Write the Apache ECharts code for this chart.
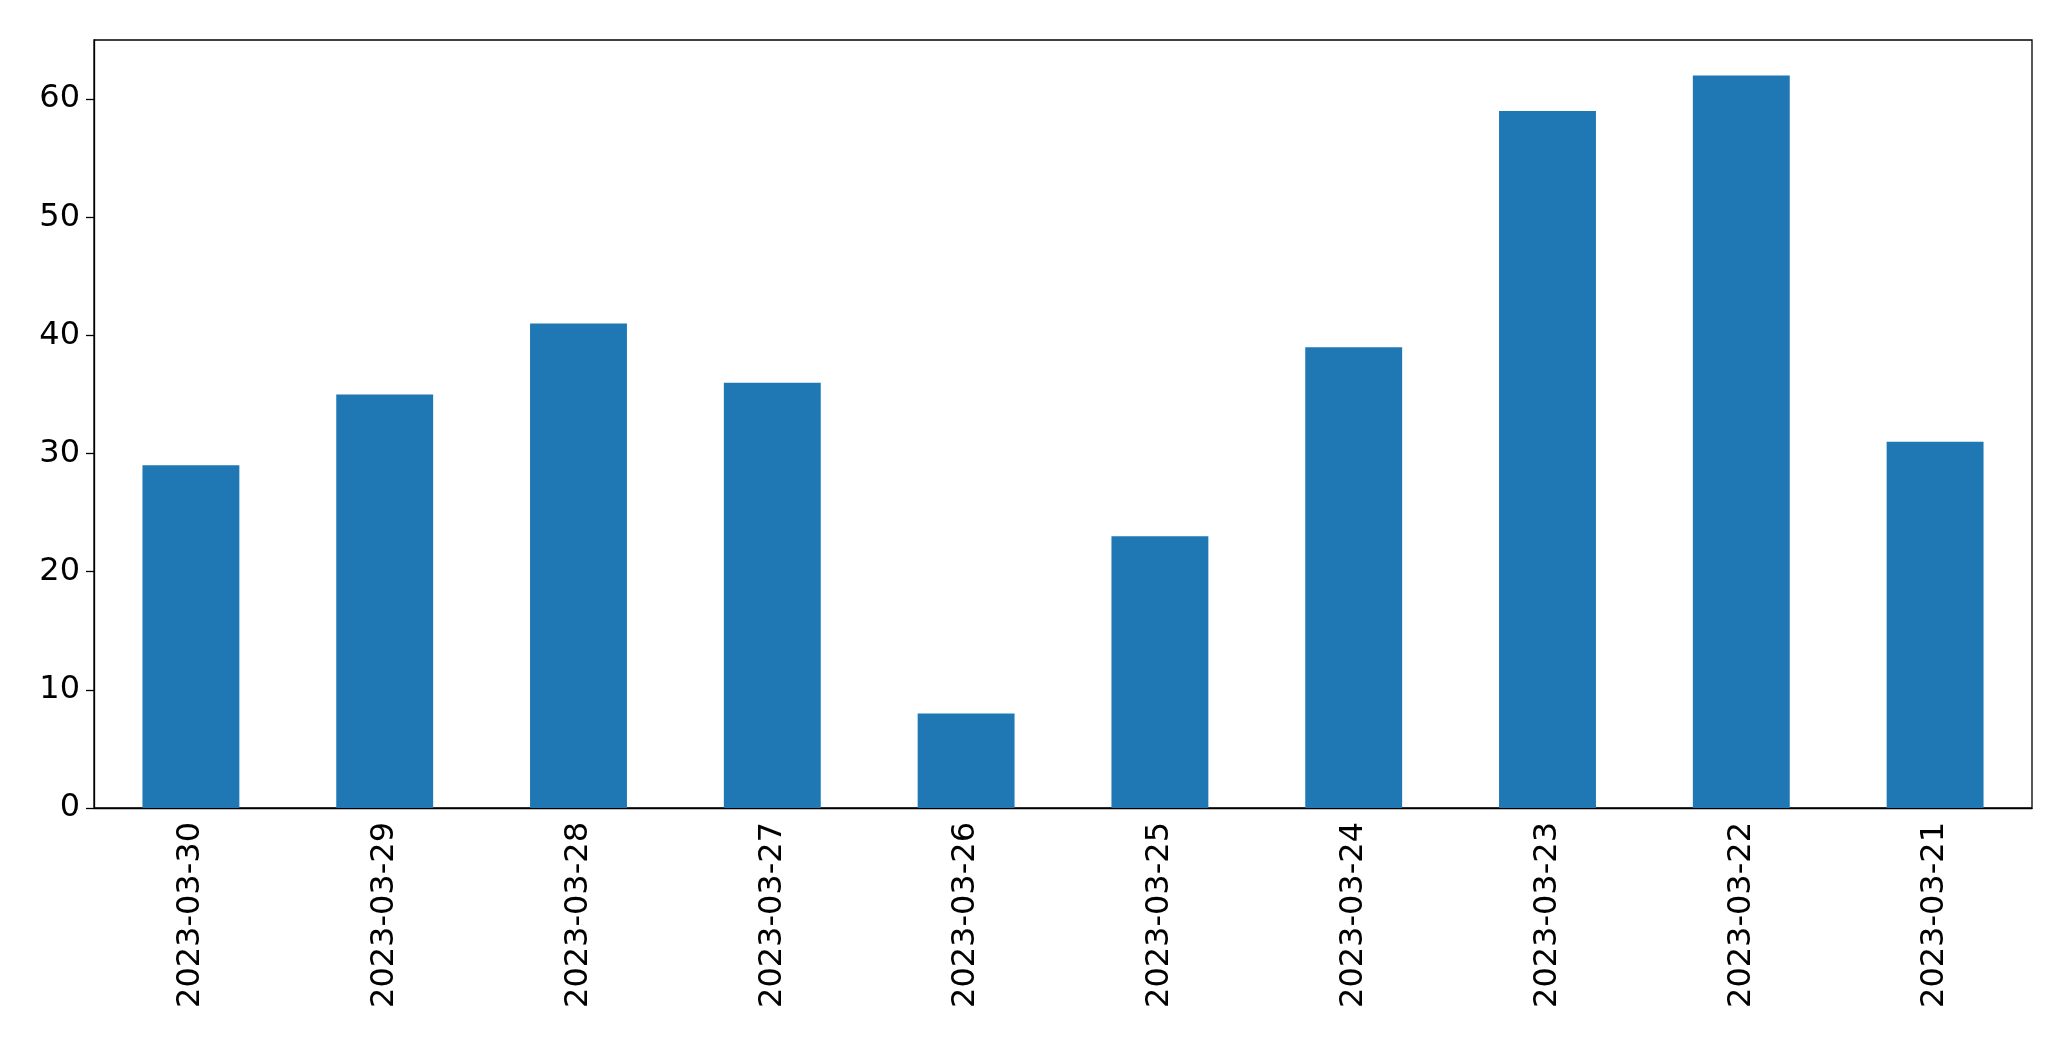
<!DOCTYPE html>
<html><head><meta charset="utf-8">
<script src="https://cdn.jsdelivr.net/npm/echarts@6/dist/echarts.min.js"></script>
<style>html,body{margin:0;padding:0;background:#fff}#c{width:2071px;height:1061px}</style>
</head><body><div id="c"></div>
<script>
const categories = ['2023-03-30','2023-03-29','2023-03-28','2023-03-27','2023-03-26','2023-03-25','2023-03-24','2023-03-23','2023-03-22','2023-03-21'];
const values = [29,35,41,36,8,23,39,59,62,31];
const chart = echarts.init(document.getElementById('c'));
const font = {fontFamily:'DejaVu Sans', fontSize:32, color:'#000'};
chart.setOption({
  animation:false,
  grid:{left:94,right:39,top:40,bottom:253,containLabel:false,show:true,borderColor:'#000',borderWidth:1.3},
  xAxis:{type:'category',data:categories,
    axisLine:{lineStyle:{color:'#000',width:1.3}},
    axisTick:{alignWithLabel:true,length:8,lineStyle:{color:'#000',width:1.3}},
    axisLabel:Object.assign({rotate:90,margin:14,interval:0},font)},
  yAxis:{type:'value',min:0,max:65,interval:10,
    axisLine:{show:true,lineStyle:{color:'#000',width:1.3}},
    axisTick:{show:true,length:8,lineStyle:{color:'#000',width:1.3}},
    splitLine:{show:false},
    axisLabel:Object.assign({margin:14,showMaxLabel:false},font)},
  series:[{type:'bar',data:values,barWidth:'50%',itemStyle:{color:'#1f77b4'}}]
});
</script></body></html>
